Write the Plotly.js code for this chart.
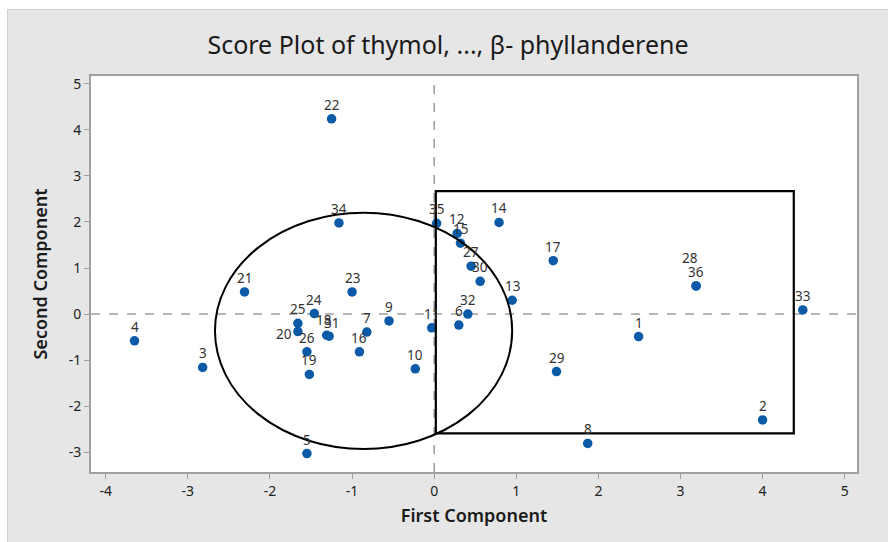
<!DOCTYPE html>
<html>
<head>
<meta charset="utf-8">
<script src="https://cdn.plot.ly/plotly-3.0.1.min.js"></script>
<style>
html,body{margin:0;padding:0;background:#ffffff;width:888px;height:542px;overflow:hidden;}
#chart{position:absolute;left:8px;top:10px;width:880px;height:532px;outline:1px solid #cfcfcf;}
</style>
</head>
<body>
<div id="chart"></div>
<script>
const obsLabels = ["1","2","3","4","5","6","7","8","9","10","11","12","13","14","15","16","17","18","19","20","21","22","23","24","25","26","27","28","29","30","31","32","33","34","35","36"];
const firstComp = [2.49, 4.00, -2.82, -3.65, -1.55, 0.30, -0.82, 1.87, -0.55, -0.23, -0.03, 0.28, 0.95, 0.79, 0.32, -0.91, 1.45, -1.31, -1.52, -1.66, -2.31, -1.25, -1.00, -1.46, -1.66, -1.55, 0.45, 3.19, 1.49, 0.56, -1.28, 0.41, 4.49, -1.16, 0.03, 3.19];
const secondComp = [-0.49, -2.30, -1.16, -0.58, -3.03, -0.24, -0.39, -2.81, -0.15, -1.19, -0.30, 1.75, 0.30, 1.99, 1.54, -0.82, 1.16, -0.46, -1.31, -0.38, 0.48, 4.24, 0.48, 0.01, -0.20, -0.82, 1.04, 0.61, -1.25, 0.71, -0.48, 0.00, 0.09, 1.98, 1.97, 0.61];
const xTicks = [-4, -3, -2, -1, 0, 1, 2, 3, 4, 5];
const yTicks = [-3, -2, -1, 0, 1, 2, 3, 4, 5];
// Highlight regions (ellipse and rectangle), in data units
const ellipseBounds = {x0: -2.67, x1: 0.95, y0: -2.93, y1: 2.20};
const rectBounds = {x0: 0.02, x1: 4.38, y0: -2.59, y1: 2.67};

// label placement tweaks (pixels) for overlapping labels
const labelShift = {
  "20": {dx: -14, dy: -2},
  "28": {dx: -6, dy: 28},
  "18": {dx: -3, dy: 15},
  "31": {dx: 2, dy: 13}
};

const FONT = 'Noto Sans, Open Sans, sans-serif';

const annotations = obsLabels.map((lab, i) => {
  const s = labelShift[lab] || {dx: 0, dy: 14};
  return {
    x: firstComp[i], y: secondComp[i], xref: 'x', yref: 'y',
    text: lab, showarrow: false, xshift: s.dx, yshift: s.dy,
    font: {family: FONT, size: 13.5, color: '#333333'},
    xanchor: 'center', yanchor: 'middle'
  };
});

const trace = {
  x: firstComp, y: secondComp, type: 'scatter', mode: 'markers',
  marker: {color: '#0a5aa8', size: 9.5},
  hoverinfo: 'text', text: obsLabels
};

const layout = {
  width: 880, height: 532,
  paper_bgcolor: '#e6e6e6', plot_bgcolor: '#ffffff',
  margin: {l: 83, r: 31, t: 66, b: 70},
  showlegend: false,
  title: {
    text: 'Score Plot of thymol, ..., β- phyllanderene',
    font: {family: FONT, size: 25, color: '#1a1a1a'},
    x: 0.5, xanchor: 'center', yref: 'container', y: 0.934, yanchor: 'middle'
  },
  xaxis: {
    range: [-4.18, 5.15], tickvals: xTicks, ticktext: xTicks.map(String),
    ticks: 'outside', ticklen: 5, tickwidth: 1, tickcolor: '#a0a0a0',
    showline: true, linecolor: '#a0a0a0', linewidth: 2, mirror: true,
    showgrid: false, zeroline: false,
    tickfont: {family: FONT, size: 14, color: '#222222'},
    title: {text: 'First Component', standoff: 11,
      font: {family: FONT, size: 18, color: '#1a1a1a', weight: 600}}
  },
  yaxis: {
    range: [-3.43, 5.17], tickvals: yTicks, ticktext: yTicks.map(String),
    ticks: 'outside', ticklen: 5, tickwidth: 1, tickcolor: '#a0a0a0',
    showline: true, linecolor: '#a0a0a0', linewidth: 2, mirror: true,
    showgrid: false, zeroline: false,
    tickfont: {family: FONT, size: 14, color: '#222222'},
    title: {text: 'Second Component', standoff: 16,
      font: {family: FONT, size: 18, color: '#1a1a1a', weight: 600}}
  },
  shapes: [
    {type: 'line', xref: 'paper', yref: 'y', x0: 0, x1: 1, y0: 0, y1: 0,
      line: {color: '#a0a0a0', width: 1.6, dash: 'dash'}, layer: 'below'},
    {type: 'line', xref: 'x', yref: 'paper', x0: 0, x1: 0, y0: 0, y1: 1,
      line: {color: '#a0a0a0', width: 1.6, dash: 'dash'}, layer: 'below'},
    {type: 'circle', xref: 'x', yref: 'y', x0: ellipseBounds.x0, x1: ellipseBounds.x1,
      y0: ellipseBounds.y0, y1: ellipseBounds.y1, line: {color: '#000000', width: 2}, layer: 'above'},
    {type: 'rect', xref: 'x', yref: 'y', x0: rectBounds.x0, x1: rectBounds.x1,
      y0: rectBounds.y0, y1: rectBounds.y1, line: {color: '#000000', width: 2.2}, layer: 'above'}
  ],
  annotations: annotations
};

Plotly.newPlot('chart', [trace], layout, {displayModeBar: false, staticPlot: true});
</script>
</body>
</html>
